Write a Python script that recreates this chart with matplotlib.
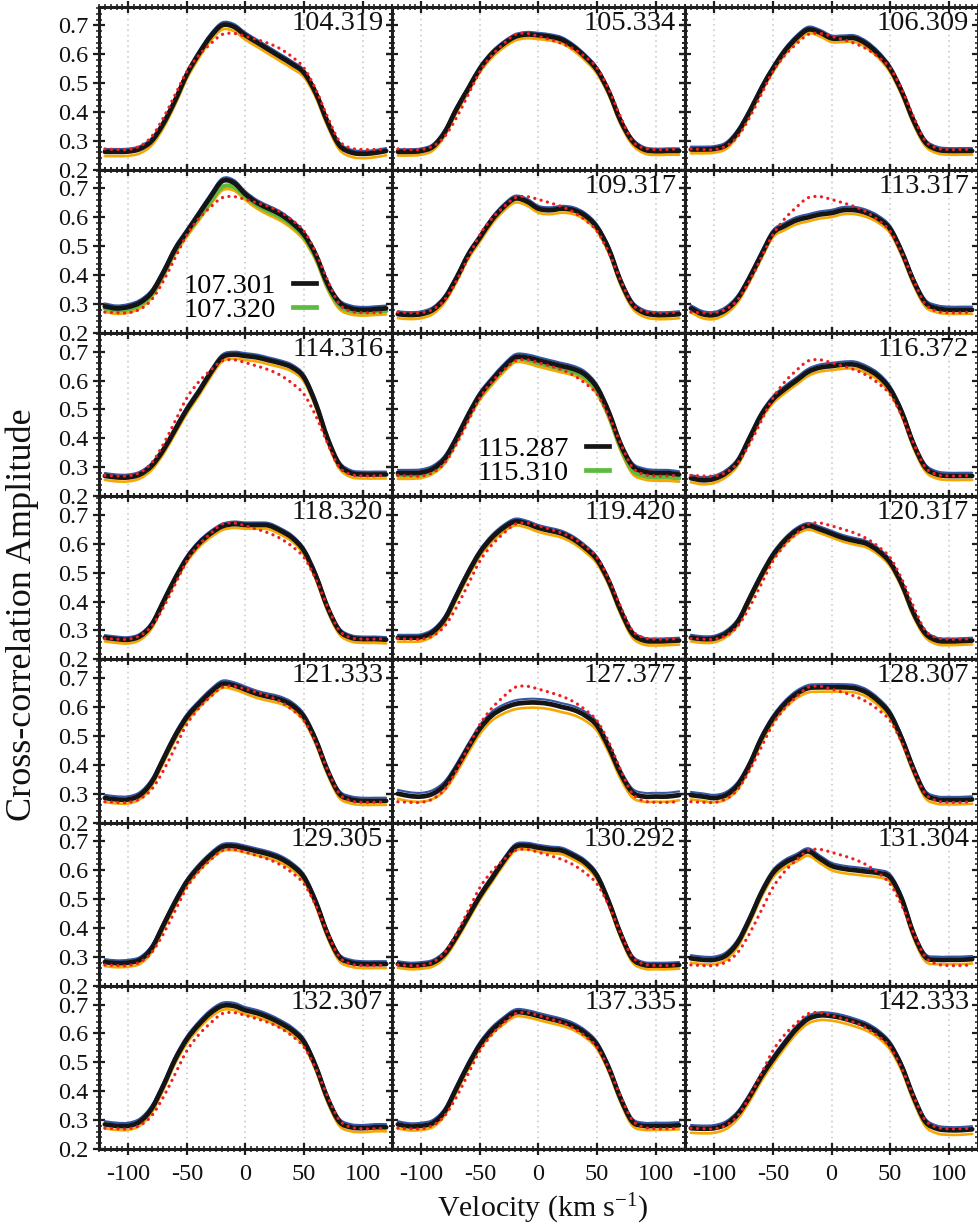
import matplotlib
matplotlib.use('Agg')
import matplotlib.pyplot as plt
import numpy as np
from matplotlib.lines import Line2D
from matplotlib.patches import PathPatch
from matplotlib.path import Path
from matplotlib.ticker import MultipleLocator

plt.rcParams['font.family'] = ['Liberation Serif', 'DejaVu Serif']
plt.rcParams['mathtext.fontset'] = 'custom'
plt.rcParams['mathtext.rm'] = 'Liberation Serif'
plt.rcParams['mathtext.it'] = 'Liberation Serif:italic'
plt.rcParams['axes.unicode_minus'] = False

# velocity grid of the cross-correlation profiles (km/s)
VEL = [-120, -110, -100, -90, -80, -70, -60, -50, -40, -30, -20, -10, 0,
       10, 20, 30, 40, 50, 60, 70, 80, 90, 100, 110, 120]

# mean profile over all nights (red dotted)
REF = [.272, .270, .270, .282, .315, .380, .460, .540, .595, .635, .668, .672, .662,
       .650, .637, .618, .590, .552, .478, .383, .300, .275, .270, .270, .272]

# nightly profiles (black)
P104_319 = [.262, .262, .263, .272, .300, .360, .440, .530, .600, .660, .700, .695, .665,
            .640, .615, .590, .565, .535, .465, .365, .285, .260, .255, .258, .265]
P105_334 = [.262, .262, .265, .280, .330, .410, .480, .550, .600, .635, .660, .668, .665,
            .660, .650, .625, .590, .545, .470, .370, .300, .270, .264, .265, .265]
P106_309 = [.270, .270, .272, .285, .330, .400, .480, .550, .610, .655, .685, .675, .655,
            .655, .655, .635, .600, .550, .470, .370, .295, .270, .265, .265, .265]
P107_301 = [.292, .285, .290, .305, .340, .410, .490, .550, .610, .670, .725, .720, .680,
            .650, .630, .610, .580, .540, .470, .370, .305, .285, .280, .282, .285]
P107_320 = [.285, .278, .282, .298, .335, .405, .485, .545, .600, .655, .705, .705, .672,
            .642, .620, .600, .572, .532, .462, .362, .295, .276, .272, .274, .276]
P109_317 = [.265, .262, .265, .280, .320, .390, .470, .530, .590, .635, .665, .655, .630,
            .625, .630, .625, .605, .565, .490, .380, .300, .270, .262, .262, .265]
P113_317 = [.285, .265, .262, .280, .320, .390, .470, .545, .570, .590, .600, .610, .615,
            .625, .625, .615, .595, .560, .480, .380, .305, .285, .280, .280, .280]
P114_316 = [.270, .265, .265, .275, .305, .360, .430, .500, .560, .625, .680, .690, .685,
            .680, .670, .660, .645, .610, .520, .400, .310, .280, .275, .275, .275]
P115_287 = [.280, .280, .282, .295, .330, .400, .480, .550, .600, .645, .680, .680, .670,
            .660, .650, .640, .620, .575, .490, .380, .305, .285, .280, .280, .275]
P115_310 = [.272, .272, .275, .290, .325, .395, .475, .545, .595, .640, .675, .672, .660,
            .650, .640, .630, .610, .565, .480, .370, .290, .270, .265, .265, .262]
P116_372 = [.262, .255, .260, .280, .320, .400, .480, .535, .570, .600, .630, .645, .650,
            .655, .655, .640, .615, .570, .490, .380, .300, .275, .270, .270, .270]
P118_320 = [.275, .270, .268, .280, .320, .400, .480, .550, .600, .635, .660, .668, .665,
            .665, .663, .645, .620, .575, .490, .380, .300, .275, .270, .270, .268]
P119_420 = [.275, .275, .277, .295, .340, .420, .500, .570, .620, .655, .677, .670, .655,
            .645, .635, .615, .585, .545, .470, .370, .290, .265, .262, .263, .265]
P120_317 = [.275, .270, .272, .290, .330, .410, .490, .560, .610, .645, .662, .650, .635,
            .620, .610, .600, .575, .535, .460, .360, .290, .265, .262, .263, .265]
P121_333 = [.285, .280, .280, .295, .340, .420, .500, .565, .610, .650, .680, .675, .660,
            .645, .635, .625, .605, .565, .485, .380, .300, .280, .275, .275, .275]
P127_377 = [.300, .292, .290, .300, .330, .390, .460, .525, .570, .595, .610, .615, .615,
            .610, .600, .590, .570, .535, .460, .370, .305, .290, .290, .290, .295]
P128_307 = [.295, .290, .285, .295, .330, .400, .490, .560, .610, .645, .665, .668, .668,
            .668, .665, .650, .620, .575, .490, .385, .300, .280, .278, .278, .280]
P129_305 = [.282, .278, .280, .290, .330, .410, .490, .560, .610, .650, .680, .683, .675,
            .665, .655, .640, .615, .575, .490, .380, .300, .280, .275, .275, .275]
P130_292 = [.275, .270, .272, .280, .310, .370, .440, .510, .570, .630, .680, .685, .678,
            .672, .668, .650, .625, .580, .490, .380, .295, .272, .270, .270, .272]
P131_304 = [.295, .290, .290, .305, .350, .430, .520, .590, .625, .645, .665, .640, .615,
            .605, .600, .595, .590, .575, .500, .380, .300, .290, .290, .290, .292]
P132_307 = [.285, .280, .280, .295, .340, .420, .510, .580, .630, .670, .695, .695, .680,
            .670, .655, .635, .610, .570, .485, .375, .295, .275, .272, .275, .275]
P137_335 = [.285, .278, .280, .290, .330, .410, .490, .560, .610, .645, .672, .670, .660,
            .650, .640, .625, .600, .560, .480, .375, .295, .280, .280, .280, .282]
P142_333 = [.272, .270, .272, .285, .320, .380, .450, .510, .565, .615, .650, .662, .660,
            .652, .640, .625, .600, .560, .485, .380, .295, .270, .265, .265, .268]

# panel labels, in reading order
LABELS = ['104.319', '105.334', '106.309',
          '107.301', '109.317', '113.317',
          '114.316', '115.287', '116.372',
          '118.320', '119.420', '120.317',
          '121.333', '127.377', '128.307',
          '129.305', '130.292', '131.304',
          '132.307', '137.335', '142.333']
PROFILES = [P104_319, P105_334, P106_309,
            P107_301, P109_317, P113_317,
            P114_316, P115_287, P116_372,
            P118_320, P119_420, P120_317,
            P121_333, P127_377, P128_307,
            P129_305, P130_292, P131_304,
            P132_307, P137_335, P142_333]
# second night in the same panel (green)
SECOND = {3: ('107.320', P107_320), 7: ('115.310', P115_310)}

# upper (blue) and lower (orange) envelope offsets per panel
ENV_UP = [.010, .009, .010, .010, .010, .011, .010, .011, .011, .009, .010, .010,
          .011, .013, .011, .010, .010, .011, .011, .011, .011]
ENV_DN = [.015, .013, .013, .012, .014, .014, .014, .012, .014, .013, .014, .013,
          .014, .018, .015, .014, .013, .015, .014, .014, .016]

C_BLACK = '#151515'
C_BLUE = '#3557a8'
C_ORANGE = '#f7a800'
C_GREEN = '#5dbb3f'
C_RED = '#ee2020'
C_FRAME = '#1e1e1e'


def smooth_path(x, y):
    # Catmull-Rom through the points, as cubic Bezier segments
    x = np.asarray(x, float)
    y = np.asarray(y, float)
    px = np.concatenate([[2 * x[0] - x[1]], x, [2 * x[-1] - x[-2]]])
    py = np.concatenate([[2 * y[0] - y[1]], y, [2 * y[-1] - y[-2]]])
    verts = [(x[0], y[0])]
    codes = [Path.MOVETO]
    for i in range(1, len(px) - 2):
        c1 = (px[i] + (px[i + 1] - px[i - 1]) / 6, py[i] + (py[i + 1] - py[i - 1]) / 6)
        c2 = (px[i + 1] - (px[i + 2] - px[i]) / 6, py[i + 1] - (py[i + 2] - py[i]) / 6)
        verts += [c1, c2, (px[i + 1], py[i + 1])]
        codes += [Path.CURVE4] * 3
    return Path(verts, codes)


def draw_curve(ax, y, color, lw, z, ls='-'):
    patch = PathPatch(smooth_path(VEL, y), fill=False, edgecolor=color, lw=lw,
                      linestyle=ls, zorder=z, capstyle='round', joinstyle='round')
    ax.add_patch(patch)


fig, axes = plt.subplots(7, 3, figsize=(9.79, 12.30), dpi=100, sharex=True, sharey=True)
fig.subplots_adjust(left=0.1011, right=0.999, top=0.9947, bottom=0.0659, hspace=0, wspace=0)

for k, ax in enumerate(axes.flat):
    prof = np.array(PROFILES[k])
    low = prof
    if k in SECOND:
        low = np.array(SECOND[k][1])
    draw_curve(ax, low - ENV_DN[k], C_ORANGE, 1.9, 2)
    draw_curve(ax, prof + ENV_UP[k], C_BLUE, 1.5, 2.1)
    if k in SECOND:
        draw_curve(ax, SECOND[k][1], C_GREEN, 3.2, 3)
    draw_curve(ax, prof, C_BLACK, 3.4, 4)
    draw_curve(ax, REF, C_RED, 2.3, 5, ls=(0, (0.05, 2.0)))

    ax.set_xlim(-125, 125)
    ax.set_ylim(0.2, 0.765)
    ax.xaxis.set_major_locator(MultipleLocator(50))
    ax.xaxis.set_minor_locator(MultipleLocator(5))
    ax.yaxis.set_major_locator(MultipleLocator(0.1))
    ax.yaxis.set_minor_locator(MultipleLocator(0.02))
    ax.xaxis.grid(True, which='major', ls=(0, (1, 2.5)), color='#c4c4c4', lw=1.1, zorder=0)
    ax.tick_params(which='both', direction='inout', top=True, right=True,
                   colors=C_FRAME, labelcolor='#111111', labelsize=17.5)
    ax.tick_params(which='major', length=9, width=1.6, pad=3)
    ax.tick_params(which='minor', length=5, width=1.1)
    ax.tick_params(axis='x', which='major', pad=6)
    for sp in ax.spines.values():
        sp.set_linewidth(2.2)
        sp.set_color(C_FRAME)
        sp.set_zorder(10)

    if k in SECOND:
        handles = [Line2D([], [], color=C_BLACK, lw=3.4), Line2D([], [], color=C_GREEN, lw=3.4)]
        ax.legend(handles, [LABELS[k], SECOND[k][0]], loc='lower right',
                  bbox_to_anchor=(0.74, 0.06), frameon=False, fontsize=20.5,
                  markerfirst=False, handlelength=0.8, handletextpad=0.6,
                  labelspacing=-0.05, borderpad=0, borderaxespad=0)
    else:
        ax.text(0.97, 0.975, LABELS[k], transform=ax.transAxes, ha='right', va='top',
                fontsize=20.5, color='#111111', zorder=6)

for ax in axes.flat:
    ax.label_outer()
    ax.yaxis.set_major_formatter(plt.FuncFormatter(lambda v, p: f'{v:.1f}'))

fig.text(0.0225, 0.50, 'Cross-correlation Amplitude', rotation=90, ha='center',
         va='center', fontsize=26, color='#111111')
fig.text(0.554, 0.017, r'Velocity (km s$^{\mathregular{-1}}$)', ha='center', va='center',
         fontsize=21.5, color='#111111')

fig.savefig('out.png', dpi=100)
